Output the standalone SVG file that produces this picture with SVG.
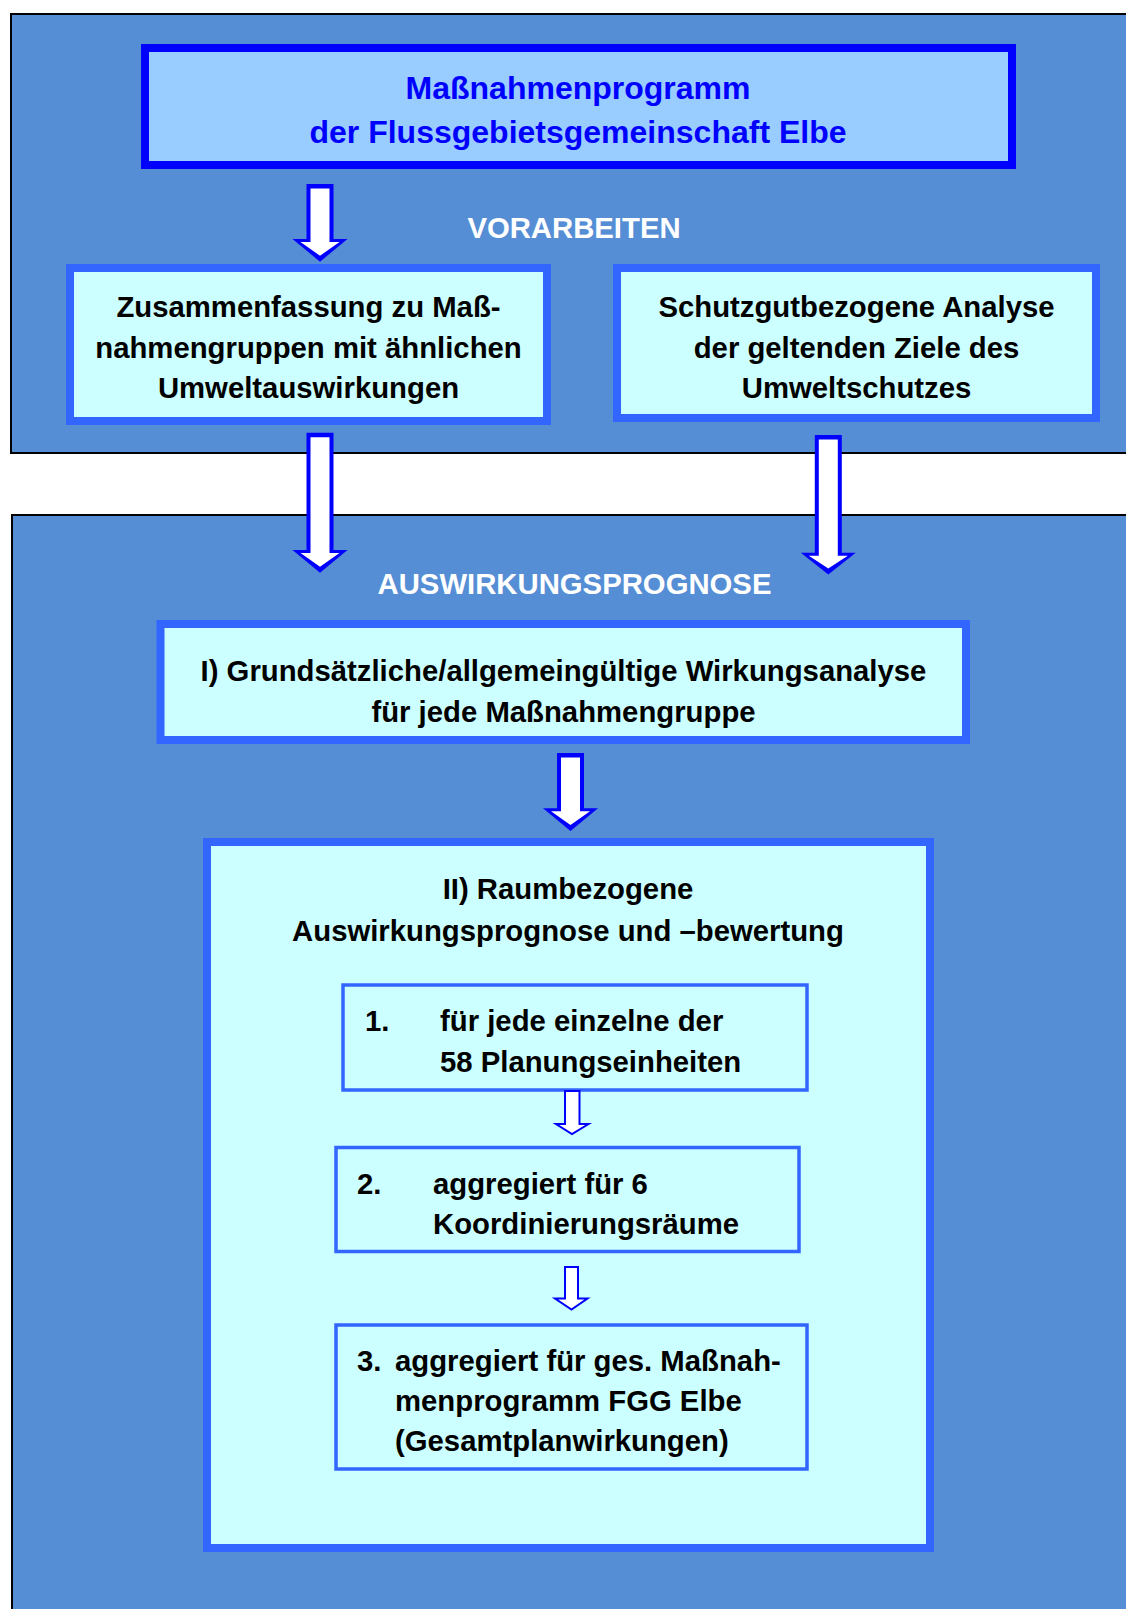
<svg xmlns="http://www.w3.org/2000/svg" width="1126" height="1609" viewBox="0 0 1126 1609">
<style>
text{font-family:"Liberation Sans",Arial,sans-serif;font-weight:bold;font-size:29.3px;fill:#000}
.c{text-anchor:middle}
.title{fill:#0000FF;font-size:32px}
.head{fill:#FFFFFF}
.panel{fill:#558ED5;stroke:#000;stroke-width:2}
.box{fill:#CCFFFF;stroke:#3366FF;stroke-width:8}
.sub{fill:#CCFFFF;stroke:#3366FF;stroke-width:3.5}
.bo{fill:#0000FF}
.bi{fill:#FFFFFF}
.small{fill:#FFFFFF;stroke:#0000FF;stroke-width:2}
</style>
<rect width="1126" height="1609" fill="#FFFFFF"/>
<g id="panel-vorarbeiten">
<rect class="panel" x="11" y="14" width="1125" height="439"/>
<text class="head c" x="574" y="238">VORARBEITEN</text>
</g>
<g id="panel-auswirkungsprognose">
<rect class="panel" x="12" y="515" width="1125" height="1110"/>
<text class="head c" x="574.5" y="594">AUSWIRKUNGSPROGNOSE</text>
</g>
<g id="title">
<rect x="145" y="48" width="867" height="117" fill="#99CCFF" stroke="#0000FF" stroke-width="8"/>
<text class="title c" x="578" y="99">Maßnahmenprogramm</text>
<text class="title c" x="578" y="143">der Flussgebietsgemeinschaft Elbe</text>
</g>
<g id="zusammenfassung">
<rect class="box" x="70" y="268" width="477" height="153"/>
<text class="c" x="308.5" y="317">Zusammenfassung zu Maß-</text>
<text class="c" x="308.5" y="358">nahmengruppen mit ähnlichen</text>
<text class="c" x="308.5" y="398">Umweltauswirkungen</text>
</g>
<g id="schutzgut">
<rect class="box" x="617" y="268" width="479" height="150"/>
<text class="c" x="856.5" y="317">Schutzgutbezogene Analyse</text>
<text class="c" x="856.5" y="358">der geltenden Ziele des</text>
<text class="c" x="856.5" y="398">Umweltschutzes</text>
</g>
<g id="wirkungsanalyse">
<rect class="box" x="160.5" y="624" width="805.5" height="116"/>
<text class="c" x="563.5" y="681">I) Grundsätzliche/allgemeingültige Wirkungsanalyse</text>
<text class="c" x="563.5" y="722">für jede Maßnahmengruppe</text>
</g>
<g id="raumbezogen">
<rect class="box" x="207" y="842" width="723" height="706"/>
<text class="c" x="568" y="899">II) Raumbezogene</text>
<text class="c" x="568" y="941">Auswirkungsprognose und –bewertung</text>
</g>
<g id="schritt1">
<rect class="sub" x="343" y="985" width="464" height="105"/>
<text x="365" y="1031">1.</text>
<text x="440" y="1031">für jede einzelne der</text>
<text x="440" y="1072">58 Planungseinheiten</text>
</g>
<g id="schritt2">
<rect class="sub" x="336" y="1147.5" width="463" height="104"/>
<text x="357" y="1194">2.</text>
<text x="433" y="1194">aggregiert für 6</text>
<text x="433" y="1234">Koordinierungsräume</text>
</g>
<g id="schritt3">
<rect class="sub" x="336" y="1325" width="471" height="144"/>
<text x="357" y="1371">3.</text>
<text x="395" y="1371">aggregiert für ges. Maßnah-</text>
<text x="395" y="1411">menprogramm FGG Elbe</text>
<text x="395" y="1451">(Gesamtplanwirkungen)</text>
</g>
<g id="connectors">
<g transform="translate(320,184)">
<polygon class="bo" points="-13.5,0 13.5,0 13.5,55 27.5,55 0,77.7 -27.5,55 -13.5,55"/>
<polygon class="bi" points="-9.5,4.5 9.5,4.5 9.5,58 19.5,58 0,71.7 -19.5,58 -9.5,58"/>
</g>
<g transform="translate(320,432.7)">
<polygon class="bo" points="-13.5,0 13.5,0 13.5,117.3 27.5,117.3 0,140 -27.5,117.3 -13.5,117.3"/>
<polygon class="bi" points="-9.5,4.5 9.5,4.5 9.5,120.3 19.5,120.3 0,134 -19.5,120.3 -9.5,120.3"/>
</g>
<g transform="translate(828.3,435)">
<polygon class="bo" points="-13.5,0 13.5,0 13.5,117.7 27.5,117.7 0,139.4 -27.5,117.7 -13.5,117.7"/>
<polygon class="bi" points="-9.5,4.5 9.5,4.5 9.5,120.7 19.5,120.7 0,133.4 -19.5,120.7 -9.5,120.7"/>
</g>
<g transform="translate(570.5,753)">
<polygon class="bo" points="-13.5,0 13.5,0 13.5,55.3 27.5,55.3 0,78 -27.5,55.3 -13.5,55.3"/>
<polygon class="bi" points="-9.5,4.5 9.5,4.5 9.5,58.3 19.5,58.3 0,72 -19.5,58.3 -9.5,58.3"/>
</g>
<polygon class="small" points="565,1091 579.5,1091 579.5,1124 588.5,1124 572,1134 556,1124 565,1124"/>
<polygon class="small" points="565,1267 578,1267 578,1298.5 587.5,1298.5 571.5,1309.5 555,1298.5 565,1298.5"/>
</g>
</svg>
